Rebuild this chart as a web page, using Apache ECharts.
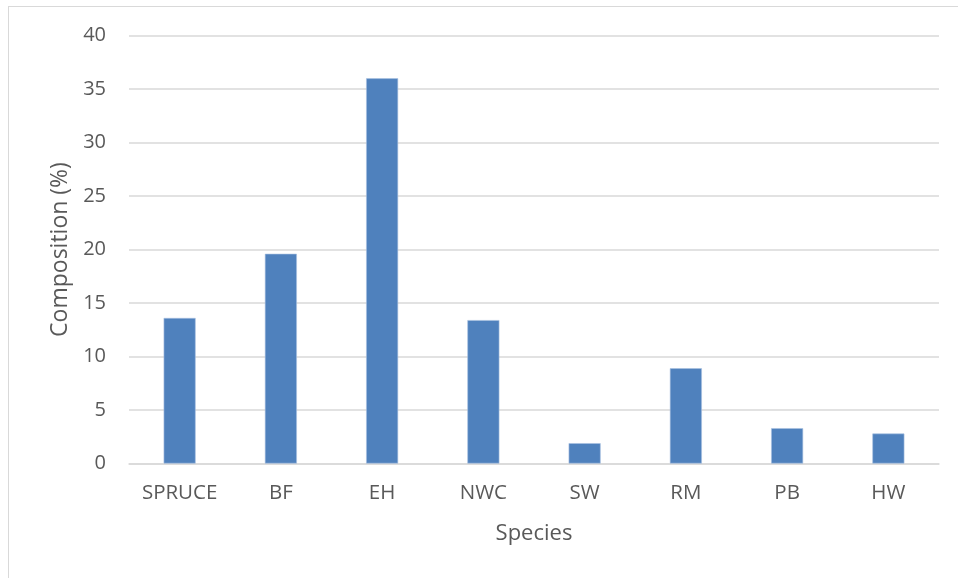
<!DOCTYPE html>
<html>
<head>
<meta charset="utf-8">
<script src="https://cdn.jsdelivr.net/npm/echarts@6/dist/echarts.min.js"></script>
<style>
  html, body { margin: 0; padding: 0; background: #fff; }
  #chart { width: 958px; height: 578px; }
</style>
</head>
<body>
<div id="chart"></div>
<script>
// Species composition data
const species = ['SPRUCE', 'BF', 'EH', 'NWC', 'SW', 'RM', 'PB', 'HW'];
const composition = [13.6, 19.6, 36.0, 13.4, 1.9, 8.9, 3.3, 2.8];

const FONT = '"Open Sans", "Liberation Sans", sans-serif';
const chart = echarts.init(document.getElementById('chart'), null, { renderer: 'canvas' });

chart.setOption({
  backgroundColor: '#ffffff',
  animation: false,
  graphic: [
    { type: 'line', shape: { x1: 8, y1: 6.5, x2: 958, y2: 6.5 }, style: { stroke: '#d9d9d9', lineWidth: 1 } },
    { type: 'line', shape: { x1: 8.5, y1: 6, x2: 8.5, y2: 578 }, style: { stroke: '#d9d9d9', lineWidth: 1 } }
  ],
  grid: { left: 129, right: 19, top: 35.5, bottom: 578 - 463.5, containLabel: false },
  xAxis: {
    type: 'category',
    data: species,
    name: 'Species',
    nameLocation: 'middle',
    nameGap: 59,
    nameTextStyle: { fontFamily: FONT, fontSize: 22, color: '#595959' },
    axisLine: { show: true, lineStyle: { color: '#d9d9d9', width: 1.5 } },
    axisTick: { show: false },
    axisLabel: { fontFamily: FONT, fontSize: 20.5, color: '#595959', margin: 19 }
  },
  yAxis: {
    type: 'value',
    min: 0,
    max: 40,
    interval: 5,
    name: 'Composition (%)',
    nameLocation: 'middle',
    nameGap: 57,
    nameTextStyle: { fontFamily: FONT, fontSize: 23, color: '#595959' },
    axisLine: { show: false },
    axisTick: { show: false },
    axisLabel: { fontFamily: FONT, fontSize: 20, color: '#595959', margin: 23 },
    splitLine: { lineStyle: { color: '#d9d9d9', width: 1.5 } }
  },
  series: [{
    type: 'bar',
    data: composition,
    barWidth: 32,
    itemStyle: { color: '#4f81bd', borderColor: '#a9c1e0', borderWidth: 0.6 }
  }]
});
</script>
</body>
</html>
